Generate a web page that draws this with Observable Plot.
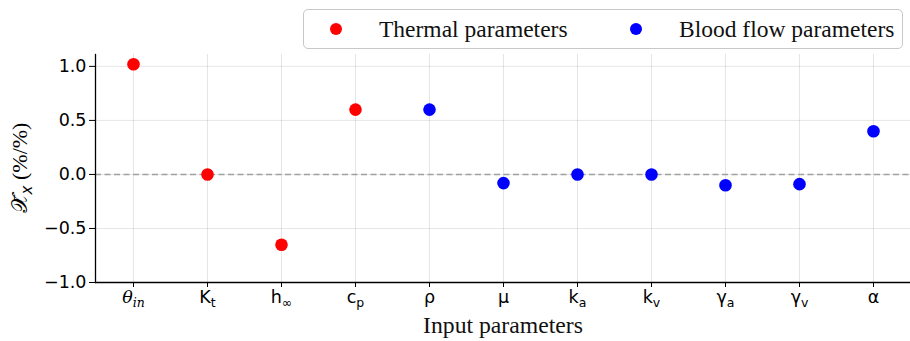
<!DOCTYPE html>
<html>
<head>
<meta charset="utf-8">
<script src="https://cdn.jsdelivr.net/npm/d3@7"></script>
<script src="https://cdn.jsdelivr.net/npm/@observablehq/plot@0.6"></script>
<style>
  html, body { margin: 0; padding: 0; background: #fff; }
  #wrap { position: relative; width: 910px; height: 341px; }
  #legend {
    position: absolute; left: 303px; top: 9px; width: 600px; height: 40px;
    border: 1.2px solid #c8c8c8; border-radius: 5px; background: #fff;
    font-family: "Liberation Serif", "Times New Roman", serif; font-size: 23.5px; color: #111;
    box-sizing: border-box;
  }
  .item { position: absolute; top: 0; height: 38px; display: flex; align-items: center; white-space: nowrap; }
  .dot { width: 12px; height: 12px; border-radius: 50%; display: inline-block; }
</style>
</head>
<body>
<div id="wrap"><div id="legend"></div></div>
<script>
// ---- data ----
const params = ["θin", "Kt", "h∞", "cp", "ρ", "μ", "ka", "kv", "γa", "γv", "α"];
const labelBase = ["θ", "K", "h", "c", "ρ", "μ", "k", "k", "γ", "γ", "α"];
const labelSub = ["in", "t", "∞", "p", "", "", "a", "v", "a", "v", ""];
const values = [1.02, 0.00, -0.65, 0.60, 0.60, -0.08, 0.00, 0.00, -0.10, -0.09, 0.40];
const groups = ["Thermal parameters", "Thermal parameters", "Thermal parameters", "Thermal parameters",
  "Blood flow parameters", "Blood flow parameters", "Blood flow parameters", "Blood flow parameters",
  "Blood flow parameters", "Blood flow parameters", "Blood flow parameters"];
const seriesNames = ["Thermal parameters", "Blood flow parameters"];
const seriesColors = ["#ff0000", "#0000ff"];
const yTicks = [-1.0, -0.5, 0.0, 0.5, 1.0];

const data = params.map((p, i) => ({p, v: values[i], g: groups[i]}));

const plot = Plot.plot({
  width: 910,
  height: 341,
  marginLeft: 95,
  marginRight: 0,
  marginTop: 54,
  marginBottom: 59,
  style: {fontFamily: "DejaVu Sans, sans-serif", fontSize: "17.5px", color: "#000", background: "transparent"},
  x: {type: "point", domain: params, padding: 0.5, label: null},
  y: {domain: [-1.0, 1.11], label: null},
  color: {domain: seriesNames, range: seriesColors},
  marks: [
    Plot.gridX(params, {x: d => d, stroke: "#000", strokeOpacity: 0.1, strokeWidth: 1}),
    Plot.gridY(yTicks, {y: d => d, stroke: "#000", strokeOpacity: 0.1, strokeWidth: 1}),
    Plot.ruleY([0], {stroke: "#a0a0a0", strokeWidth: 1.6, strokeDasharray: "6,3.5"}),
    Plot.axisY({ticks: yTicks, tickSize: 6, tickPadding: 3, tickFormat: d => d3.format(".1f")(d).replace("-", "\u2212"), fontSize: 17.5, label: null}),
    Plot.axisX({tickSize: 5, tickPadding: 3, fontSize: 17.5, label: null}),
    Plot.frame({anchor: "left", stroke: "#000", strokeWidth: 1.3}),
    Plot.frame({anchor: "bottom", stroke: "#000", strokeWidth: 1.3}),
    Plot.dot(data, {x: "p", y: "v", fill: "g", r: 6.3, stroke: null})
  ]
});
document.getElementById("wrap").prepend(plot);

const svg = d3.select(plot);

// rebuild x tick labels with subscripts
svg.selectAll("[aria-label='x-axis tick label'] text").each(function() {
  const t = d3.select(this);
  const idx = params.indexOf(t.text());
  if (idx < 0) return;
  t.text(null);
  const isItalic = idx === 0;
  t.append("tspan").text(labelBase[idx])
    .attr("font-style", isItalic ? "italic" : null)
    .attr("font-family", isItalic ? "DejaVu Serif, serif" : null);
  if (labelSub[idx]) {
    t.append("tspan").text(labelSub[idx])
      .attr("font-size", "12.5px").attr("dy", "4")
      .attr("font-style", isItalic ? "italic" : null)
      .attr("font-family", isItalic ? "DejaVu Serif, serif" : null);
  }
});

// y label
const ylab = svg.append("text")
  .attr("transform", "translate(27,168) rotate(-90)")
  .attr("text-anchor", "middle")
  .attr("font-size", 22);
ylab.append("tspan").text("\uD835\uDCB3\u0304").attr("font-family", "DejaVu Sans, serif");
ylab.append("tspan").text("x").attr("font-size", 15).attr("dy", 5).attr("font-style", "italic").attr("font-family", "DejaVu Sans, sans-serif");
ylab.append("tspan").text(" (%/%)").attr("dy", -5).attr("font-family", "Liberation Serif, serif");

// x label
svg.append("text")
  .attr("x", 503).attr("y", 333)
  .attr("text-anchor", "middle")
  .attr("font-family", "Liberation Serif, Times New Roman, serif")
  .attr("font-size", 23.7)
  .attr("fill", "#111")
  .text("Input parameters");

// legend
const leg = d3.select("#legend");
const itemLeft = [26, 326];
seriesNames.forEach((name, i) => {
  const it = leg.append("div").attr("class", "item").style("left", itemLeft[i] + "px");
  it.append("span").attr("class", "dot").style("background", seriesColors[i]);
  it.append("span").text(name).style("margin-left", "37px");
});
</script>
</body>
</html>
